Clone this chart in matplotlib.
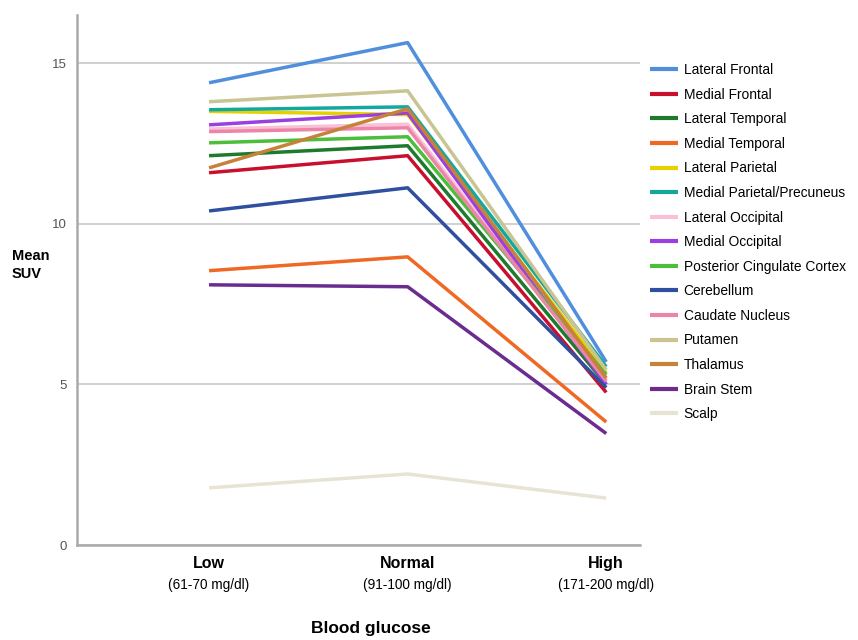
import matplotlib
matplotlib.use("Agg")
import matplotlib.pyplot as plt

categories = ["Low", "Normal", "High"]
ranges = ["(61-70 mg/dl)", "(91-100 mg/dl)", "(171-200 mg/dl)"]

regions = ["Lateral Frontal", "Medial Frontal", "Lateral Temporal", "Medial Temporal",
           "Lateral Parietal", "Medial Parietal/Precuneus", "Lateral Occipital",
           "Medial Occipital", "Posterior Cingulate Cortex", "Cerebellum",
           "Caudate Nucleus", "Putamen", "Thalamus", "Brain Stem", "Scalp"]

lateral_frontal = [14.39, 15.64, 5.70]
medial_frontal = [11.59, 12.12, 4.75]
lateral_temporal = [12.12, 12.43, 5.00]
medial_temporal = [8.54, 8.97, 3.83]
lateral_parietal = [13.50, 13.40, 5.35]
medial_parietal = [13.55, 13.64, 5.55]
lateral_occipital = [12.95, 13.10, 5.15]
medial_occipital = [13.08, 13.45, 5.00]
posterior_cingulate = [12.52, 12.71, 5.30]
cerebellum = [10.40, 11.12, 4.90]
caudate = [12.87, 12.99, 5.10]
putamen = [13.80, 14.14, 5.45]
thalamus = [11.74, 13.58, 5.20]
brain_stem = [8.10, 8.04, 3.47]
scalp = [1.78, 2.21, 1.46]

series = [lateral_frontal, medial_frontal, lateral_temporal, medial_temporal,
          lateral_parietal, medial_parietal, lateral_occipital, medial_occipital,
          posterior_cingulate, cerebellum, caudate, putamen, thalamus, brain_stem, scalp]

colors = ["#4f8fde", "#c8102e", "#1e7b2e", "#ee6a24", "#e6d000", "#13a89e",
          "#f9c0d8", "#9b3fe0", "#4bbf3a", "#2f4f9f", "#ec86a8", "#c9c491",
          "#c7823a", "#6a2c8e", "#e8e4d3"]

plt.rcParams['font.family'] = ['Liberation Sans', 'DejaVu Sans']

fig = plt.figure(figsize=(8.58, 6.40), dpi=100)
ax = fig.add_axes([77/858, 1 - 545/640, (640 - 77)/858, (545 - 15)/640])

x = list(range(len(categories)))
for vals, c, name in zip(series, colors, regions):
    ax.plot(x, vals, color=c, lw=2.5, label=name, solid_capstyle='butt')

ax.set_ylim(0, 16.5)
ax.set_xlim(-0.665, 2.17)
ax.set_yticks([0, 5, 10, 15])
ax.set_yticklabels(["0", "5", "10", "15"], color="#555555", fontsize=9.5)
ax.set_xticks(x)
ax.set_xticklabels([])
ax.tick_params(axis='both', length=0, pad=7)
ax.yaxis.grid(True, color="#c8c8c8", lw=1.2)
ax.set_axisbelow(True)
for s in ["top", "right"]:
    ax.spines[s].set_visible(False)
for s in ["left", "bottom"]:
    ax.spines[s].set_color("#aaaaaa")
    ax.spines[s].set_linewidth(1.8)

for xi, cat, rg in zip(x, categories, ranges):
    ax.annotate(cat, xy=(xi, 0), xycoords=('data', 'axes fraction'),
                xytext=(0, -13.5), textcoords='offset points', ha='center', va='center',
                fontsize=11.5, fontweight='bold')
    ax.annotate(rg, xy=(xi, 0), xycoords=('data', 'axes fraction'),
                xytext=(0, -29), textcoords='offset points', ha='center', va='center',
                fontsize=9.8)

fig.text(371/858, 1 - 628/640, "Blood glucose", ha='center', va='center',
         fontsize=12.5, fontweight='bold')
fig.text(12/858, 1 - 265/640, "Mean\nSUV", ha='left', va='center',
         fontsize=10.5, fontweight='bold', linespacing=1.3)

leg = ax.legend(loc='upper left', bbox_to_anchor=(650/858, 1 - 63/640),
                bbox_transform=fig.transFigure, frameon=False, fontsize=9.9,
                handlelength=2.0, handletextpad=0.45, labelspacing=0.77,
                borderaxespad=0, borderpad=0)
for line in leg.get_lines():
    line.set_linewidth(3)

fig.savefig("out.png", dpi=100, facecolor="white")
